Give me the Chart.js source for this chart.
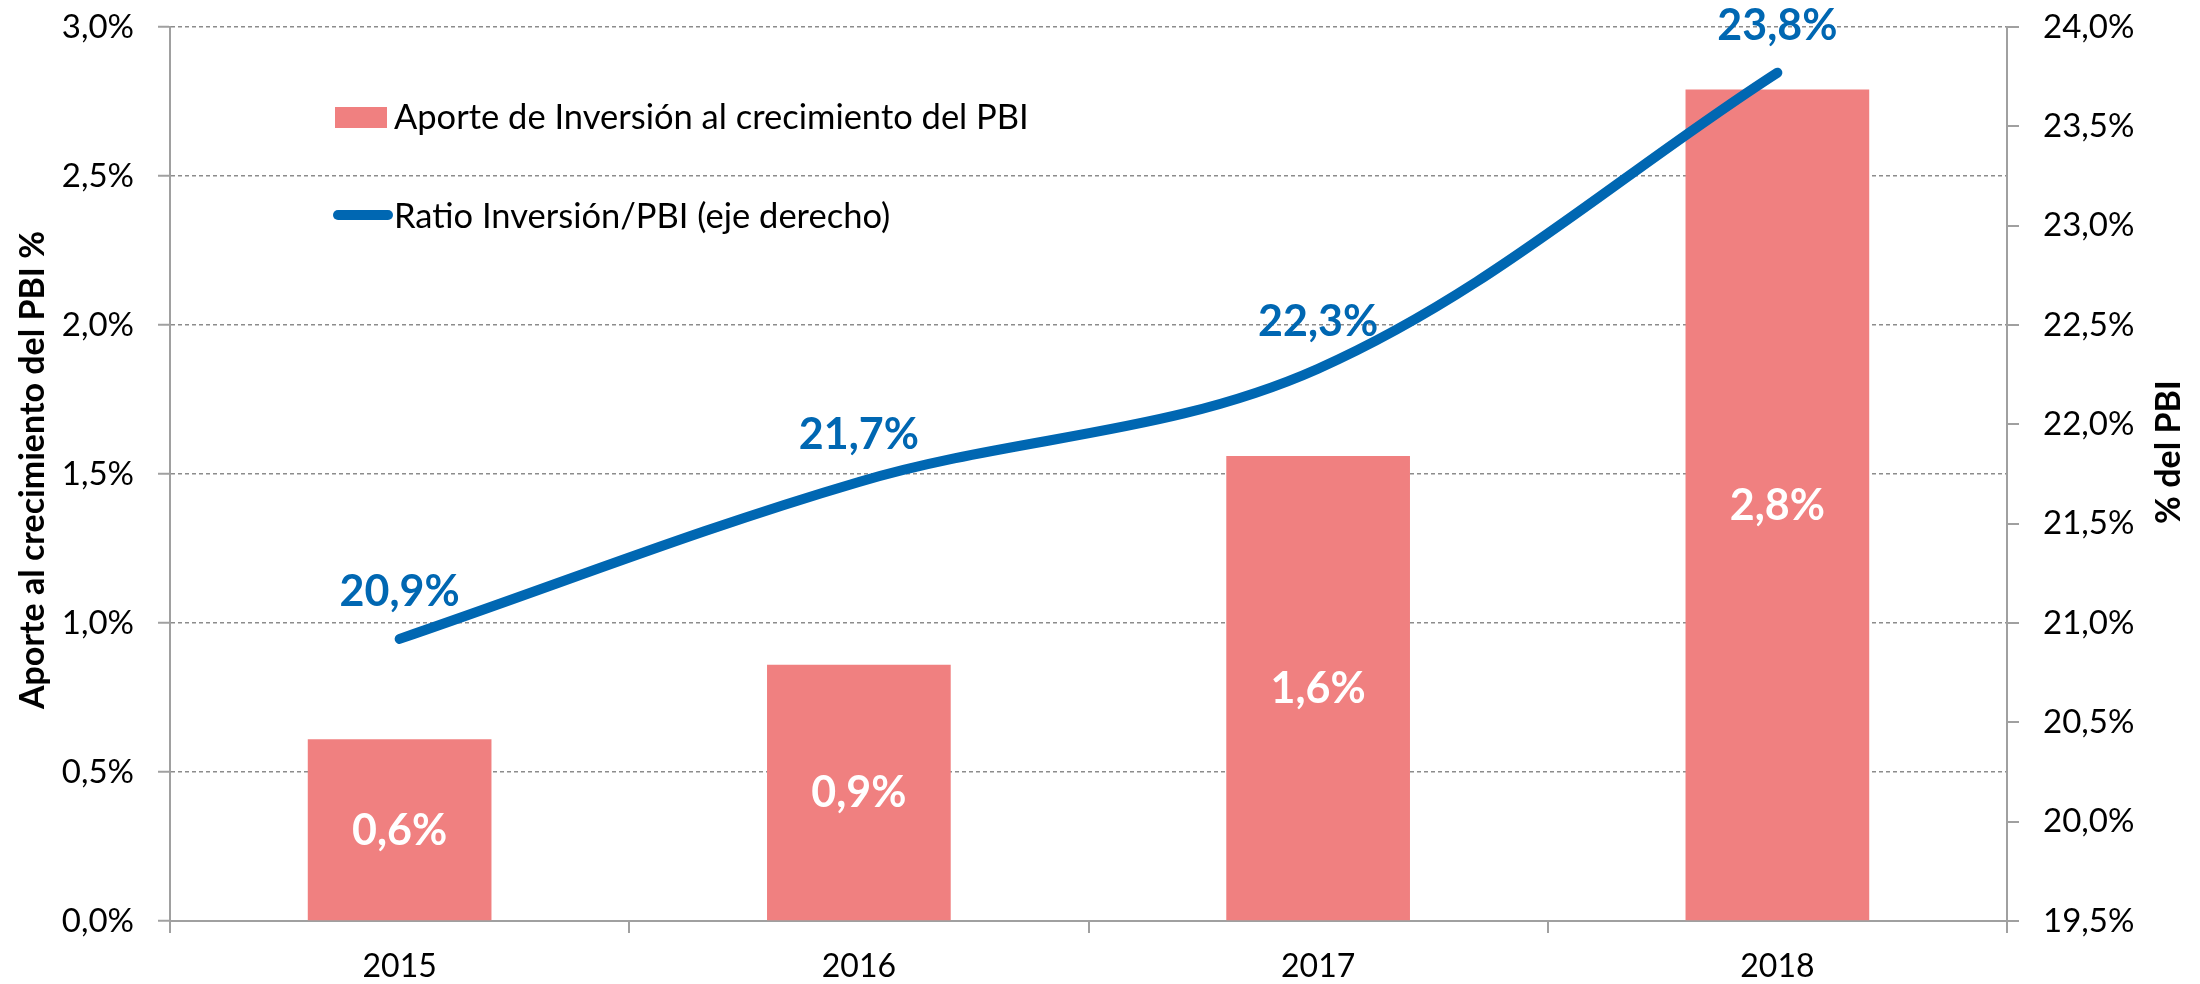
<!DOCTYPE html>
<html>
<head>
<meta charset="utf-8">
<script src="https://cdn.jsdelivr.net/npm/chart.js@4.4.1/dist/chart.umd.min.js"></script>
<style>
html, body { margin: 0; padding: 0; background: #fff; }
#wrap { width: 2200px; height: 984px; }
</style>
</head>
<body>
<div id="wrap"><canvas id="myChart1"></canvas></div>
<script>
var years = ["2015", "2016", "2017", "2018"];
var aporte = [0.61, 0.86, 1.56, 2.79];        // eje izquierdo, %
var ratio = [20.92, 21.71, 22.28, 23.77];      // eje derecho, %
var aporteLabel = 'Aporte de Inversión al crecimiento del PBI';
var ratioLabel = 'Ratio Inversión/PBI (eje derecho)';
var leftTitle = 'Aporte al crecimiento del PBI %';
var rightTitle = '% del PBI';

var FONT = 'Lato, Carlito, sans-serif';
var BLUE = '#0067B2';
var RED = '#F08080';
var GRAY = '#A0A0A0';

function pct(v) {
	return v.toFixed(1).replace('.', ',') + '%';
}

// ancho fijo del eje y sin relleno extra arriba/abajo
function fixWidth(w) {
	return function(s) {
		s.width = w;
		s.paddingTop = 0;
		s.paddingBottom = 0;
	};
}

// etiquetas de valor sobre barras y linea
var valueLabels = {
	id: 'valueLabels',
	afterDatasetsDraw: function(chart) {
		var ctx = chart.ctx;
		ctx.save();
		ctx.font = 'bold 43px ' + FONT;
		ctx.textAlign = 'center';
		ctx.textBaseline = 'alphabetic';
		chart.getDatasetMeta(1).data.forEach(function(bar, i) {
			ctx.fillStyle = '#fff';
			ctx.fillText(pct(aporte[i]), bar.x, (bar.y + bar.base) / 2 + 15);
		});
		chart.getDatasetMeta(0).data.forEach(function(pt, i) {
			ctx.fillStyle = BLUE;
			ctx.fillText(pct(ratio[i]), pt.x, pt.y - 33);
		});
		ctx.restore();
	}
};

// leyenda dentro del area y titulos de ejes
var extras = {
	id: 'extras',
	afterDraw: function(chart) {
		var ctx = chart.ctx;
		var a = chart.chartArea;
		ctx.save();
		ctx.font = '34.5px ' + FONT;
		ctx.textAlign = 'left';
		ctx.textBaseline = 'alphabetic';
		// item barras
		ctx.fillStyle = RED;
		ctx.fillRect(a.left + 165, a.top + 80, 52, 21);
		ctx.fillStyle = '#000';
		ctx.fillText(aporteLabel, a.left + 224, a.top + 102);
		// item linea
		ctx.strokeStyle = BLUE;
		ctx.lineWidth = 10;
		ctx.lineCap = 'round';
		ctx.beginPath();
		ctx.moveTo(a.left + 168, a.top + 188);
		ctx.lineTo(a.left + 218, a.top + 188);
		ctx.stroke();
		ctx.fillText(ratioLabel, a.left + 224, a.top + 201);

		// titulos de ejes
		ctx.font = 'bold 34px ' + FONT;
		ctx.textAlign = 'center';
		var cy = (a.top + a.bottom) / 2;
		ctx.save();
		ctx.translate(44, cy - 4);
		ctx.rotate(-Math.PI / 2);
		ctx.fillText(leftTitle, 0, 0);
		ctx.restore();
		ctx.save();
		ctx.translate(2180, cy - 22);
		ctx.rotate(-Math.PI / 2);
		ctx.fillText(rightTitle, 0, 0);
		ctx.restore();
		ctx.restore();
	}
};

var ctx = document.getElementById("myChart1").getContext("2d");
window.myChart = new Chart(ctx, {
	data: {
		labels: years,
		datasets: [{
			type: 'line',
			label: ratioLabel,
			data: ratio,
			yAxisID: 'y1',
			borderColor: BLUE,
			borderWidth: 10,
			borderCapStyle: 'round',
			pointRadius: 0,
			tension: 0.35,
			clip: false,
			order: 1
		}, {
			type: 'bar',
			label: aporteLabel,
			data: aporte,
			yAxisID: 'y',
			backgroundColor: RED,
			categoryPercentage: 1,
			barPercentage: 0.4,
			order: 2
		}]
	},
	options: {
		responsive: true,
		maintainAspectRatio: false,
		animation: false,
		layout: { padding: { top: 27, left: 0, right: 0, bottom: 0 } },
		plugins: {
			legend: { display: false },
			tooltip: { enabled: false }
		},
		scales: {
			x: {
				grid: { drawOnChartArea: false, offset: true, tickLength: 12, color: GRAY, lineWidth: 2 },
				border: { color: GRAY, width: 2 },
				ticks: { font: { family: FONT, size: 32 }, color: '#000', padding: 14 },
				afterFit: function(s) { s.height = 63; }
			},
			y: {
				position: 'left',
				min: 0,
				max: 3,
				ticks: {
					stepSize: 0.5,
					callback: function(v) { return pct(v); },
					font: { family: FONT, size: 33 },
					color: '#000',
					padding: 24
				},
				grid: { color: '#8C8C8C', lineWidth: 1.5, tickLength: 12, tickColor: GRAY, tickWidth: 2, tickBorderDash: [] },
				border: { color: GRAY, width: 2, dash: [4, 3] },
				afterFit: fixWidth(170)
			},
			y1: {
				position: 'right',
				min: 19.5,
				max: 24,
				ticks: {
					stepSize: 0.5,
					callback: function(v) { return pct(v); },
					font: { family: FONT, size: 33 },
					color: '#000',
					padding: 24
				},
				grid: { drawOnChartArea: false, tickLength: 12, color: GRAY, lineWidth: 2 },
				border: { color: GRAY, width: 2 },
				afterFit: fixWidth(193)
			}
		}
	},
	plugins: [valueLabels, extras]
});
</script>
</body>
</html>
